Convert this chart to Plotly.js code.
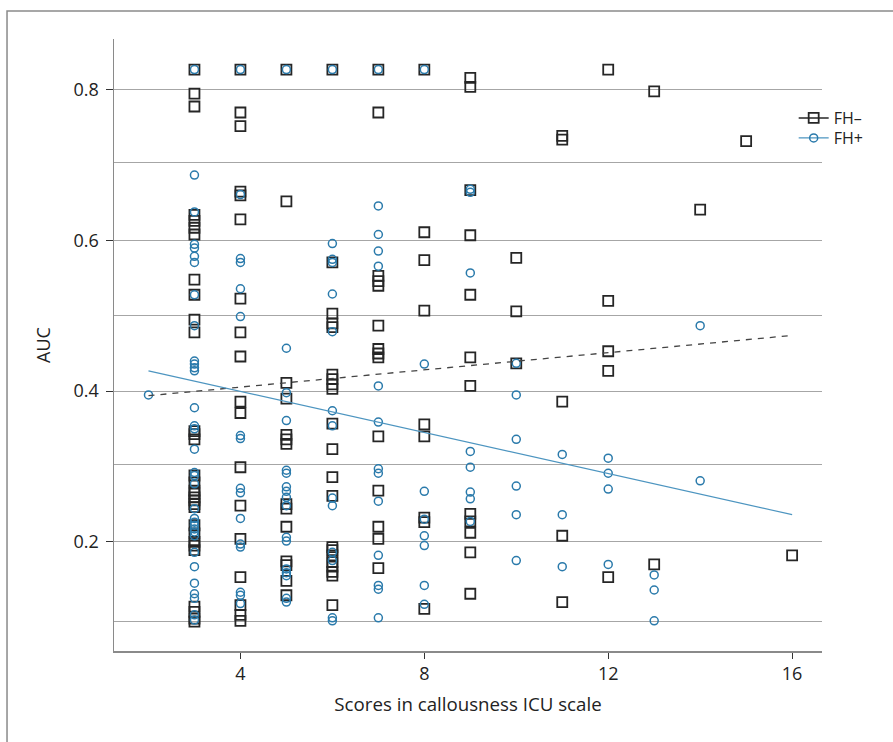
<!DOCTYPE html>
<html>
<head>
<meta charset="utf-8">
<script src="https://cdn.plot.ly/plotly-3.0.1.min.js"></script>
<style>html,body{margin:0;padding:0;background:#fff;}#chart{width:893px;height:742px;}</style>
</head>
<body>
<div id="chart"></div>
<script>
// FH– (squares)
const fhNegX = [
  3,3,3,3,3,3,3,3,3,3,3,3,3,3,3,3,3,3,3,3,3,3,3,3,3,3,3,3,3,3,3,
  4,4,4,4,4,4,4,4,4,4,4,4,4,4,4,4,4,4,
  5,5,5,5,5,5,5,5,5,5,5,5,5,5,
  6,6,6,6,6,6,6,6,6,6,6,6,6,6,6,6,6,6,6,6,6,
  7,7,7,7,7,7,7,7,7,7,7,7,7,7,
  8,8,8,8,8,8,8,8,8,
  9,9,9,9,9,9,9,9,9,9,9,9,
  10,10,10,
  11,11,11,11,11,
  12,12,12,12,12,
  13,13,
  14,
  15,
  16
];
const fhNegY = [
  0.827,0.795,0.778,0.634,0.626,0.617,0.608,0.548,0.528,0.495,0.478,0.347,0.343,0.336,0.288,0.279,0.268,0.264,0.259,0.255,0.250,0.246,0.222,0.211,0.200,0.195,0.189,0.114,0.107,0.098,0.094,
  0.827,0.770,0.752,0.665,0.660,0.628,0.523,0.478,0.446,0.386,0.371,0.299,0.248,0.204,0.153,0.116,0.103,0.095,
  0.827,0.652,0.411,0.390,0.342,0.336,0.330,0.250,0.244,0.220,0.174,0.169,0.148,0.129,
  0.827,0.571,0.503,0.490,0.485,0.422,0.416,0.409,0.403,0.357,0.323,0.286,0.261,0.193,0.189,0.182,0.173,0.167,0.160,0.155,0.116,
  0.827,0.770,0.553,0.546,0.540,0.487,0.456,0.450,0.445,0.340,0.268,0.220,0.204,0.165,
  0.827,0.611,0.574,0.507,0.356,0.340,0.232,0.226,0.111,
  0.816,0.804,0.667,0.607,0.528,0.445,0.407,0.237,0.227,0.212,0.186,0.131,
  0.577,0.506,0.437,
  0.739,0.734,0.386,0.208,0.120,
  0.827,0.520,0.453,0.427,0.153,
  0.798,0.170,
  0.641,
  0.732,
  0.182
];
// FH+ (circles)
const fhPosX = [
  2,
  3,3,3,3,3,3,3,3,3,3,3,3,3,3,3,3,3,3,3,3,3,3,3,3,3,3,3,3,3,3,3,3,3,3,
  4,4,4,4,4,4,4,4,4,4,4,4,4,4,4,4,
  5,5,5,5,5,5,5,5,5,5,5,5,5,5,5,5,5,
  6,6,6,6,6,6,6,6,6,6,6,6,6,6,
  7,7,7,7,7,7,7,7,7,7,7,7,7,7,
  8,8,8,8,8,8,8,8,
  9,9,9,9,9,9,9,9,
  10,10,10,10,10,10,
  11,11,11,
  12,12,12,12,
  13,13,13,
  14,14
];
const fhPosY = [
  0.395,
  0.827,0.687,0.638,0.595,0.590,0.579,0.571,0.528,0.487,0.440,0.436,0.431,0.427,0.378,0.354,0.350,0.323,0.292,0.288,0.277,0.244,0.231,0.226,0.222,0.217,0.213,0.208,0.186,0.167,0.145,0.131,0.125,0.103,0.096,
  0.827,0.661,0.576,0.571,0.536,0.499,0.341,0.337,0.271,0.265,0.231,0.197,0.193,0.133,0.129,0.118,
  0.827,0.457,0.398,0.361,0.295,0.291,0.273,0.267,0.259,0.248,0.206,0.201,0.164,0.159,0.155,0.125,0.120,
  0.827,0.596,0.575,0.571,0.529,0.479,0.374,0.354,0.258,0.248,0.186,0.175,0.099,0.095,
  0.827,0.646,0.608,0.586,0.566,0.407,0.359,0.297,0.291,0.254,0.182,0.142,0.137,0.099,
  0.827,0.436,0.267,0.230,0.208,0.195,0.142,0.117,
  0.668,0.664,0.557,0.320,0.299,0.266,0.257,0.227,
  0.437,0.395,0.336,0.274,0.236,0.175,
  0.316,0.236,0.167,
  0.311,0.291,0.270,0.170,
  0.156,0.136,0.095,
  0.487,0.281
];
// Fitted regression lines (end points)
const fitX = [2, 16];
const fitNegY = [0.394, 0.474];
const fitPosY = [0.427, 0.236];

const xTickVals = [4, 8, 12, 16];
const yTickVals = [0.2, 0.4, 0.6, 0.8];
const yTickText = ['0.2', '0.4', '0.6', '0.8'];
const yGridMinor = [0.094, 0.303, 0.5, 0.703];
const seriesNames = ['FH\u2013', 'FH+'];

const negColor = '#262626';
const posColor = '#2a7aab';
const posLine = '#4d95c0';
const FONT = '"Open Sans", "Noto Sans", sans-serif';
const FS = 18;

const traces = [
  {x: fhNegX, y: fhNegY, type: 'scatter', mode: 'markers', showlegend: false,
   marker: {symbol: 'square-open', size: 10, color: negColor, line: {width: 1.8, color: negColor}}},
  {x: fhPosX, y: fhPosY, type: 'scatter', mode: 'markers', showlegend: false,
   marker: {symbol: 'circle-open', size: 8, color: posColor, line: {width: 1.5, color: posColor}}},
  {x: fitX, y: fitNegY, type: 'scatter', mode: 'lines', showlegend: false,
   line: {color: '#444', width: 1.3, dash: '6px,6px'}},
  {x: fitX, y: fitPosY, type: 'scatter', mode: 'lines', showlegend: false,
   line: {color: posLine, width: 1.2}},
  {x: [null], y: [null], type: 'scatter', mode: 'lines+markers', name: seriesNames[0], legend: 'legend',
   line: {color: negColor, width: 1.5},
   marker: {symbol: 'square-open', size: 10, color: negColor, line: {width: 1.8, color: negColor}}},
  {x: [null], y: [null], type: 'scatter', mode: 'lines+markers', name: seriesNames[1], legend: 'legend2',
   line: {color: posLine, width: 1.2},
   marker: {symbol: 'circle-open', size: 8, color: posColor, line: {width: 1.5, color: posColor}}}
];

const legendBase = {
  xanchor: 'left', yanchor: 'middle',
  bgcolor: 'rgba(0,0,0,0)', borderwidth: 0,
  font: {size: 16, family: FONT, color: '#222'},
  itemwidth: 30
};

const layout = {
  width: 893, height: 742,
  margin: {l: 114, r: 71, t: 39, b: 91},
  paper_bgcolor: '#fff', plot_bgcolor: '#fff',
  font: {family: FONT, size: FS, color: '#222'},
  xaxis: {
    range: [1.25, 16.65], tickmode: 'array', tickvals: xTickVals,
    ticks: 'outside', ticklen: 6, tickcolor: '#333', tickwidth: 1,
    showgrid: false, zeroline: false,
    showline: true, linecolor: '#8a8a8a', linewidth: 1.5,
    tickfont: {size: FS, family: FONT, color: '#222'},
    title: {text: 'Scores in callousness ICU scale', font: {size: 18.7, family: FONT, color: '#222'}, standoff: 14}
  },
  yaxis: {
    range: [0.055, 0.8676], tickmode: 'array', tickvals: yTickVals, ticktext: yTickText,
    ticks: 'outside', ticklen: 7, tickcolor: '#333', tickwidth: 1,
    ticklabelstandoff: 3,
    showgrid: true, gridcolor: '#a6a6a6', gridwidth: 1, zeroline: false,
    showline: true, linecolor: '#8a8a8a', linewidth: 1.5,
    minor: {tickmode: 'array', tickvals: yGridMinor, showgrid: true, gridcolor: '#a6a6a6', gridwidth: 1, ticks: ''},
    tickfont: {size: FS, family: FONT, color: '#222'},
    title: {text: 'AUC', font: {size: FS, family: FONT, color: '#222'}, standoff: 18}
  },
  legend: Object.assign({x: 0.96, y: 0.8709}, legendBase),
  legend2: Object.assign({x: 0.96, y: 0.8382}, legendBase),
  shapes: [{
    type: 'path', xref: 'paper', yref: 'paper',
    path: 'M -0.1511,-0.3 L -0.1511,1.0458 L 1.3,1.0458',
    line: {color: '#8a8a8a', width: 1.5}
  }],
  showlegend: true
};

Plotly.newPlot('chart', traces, layout, {displayModeBar: false, staticPlot: true});
</script>
</body>
</html>
